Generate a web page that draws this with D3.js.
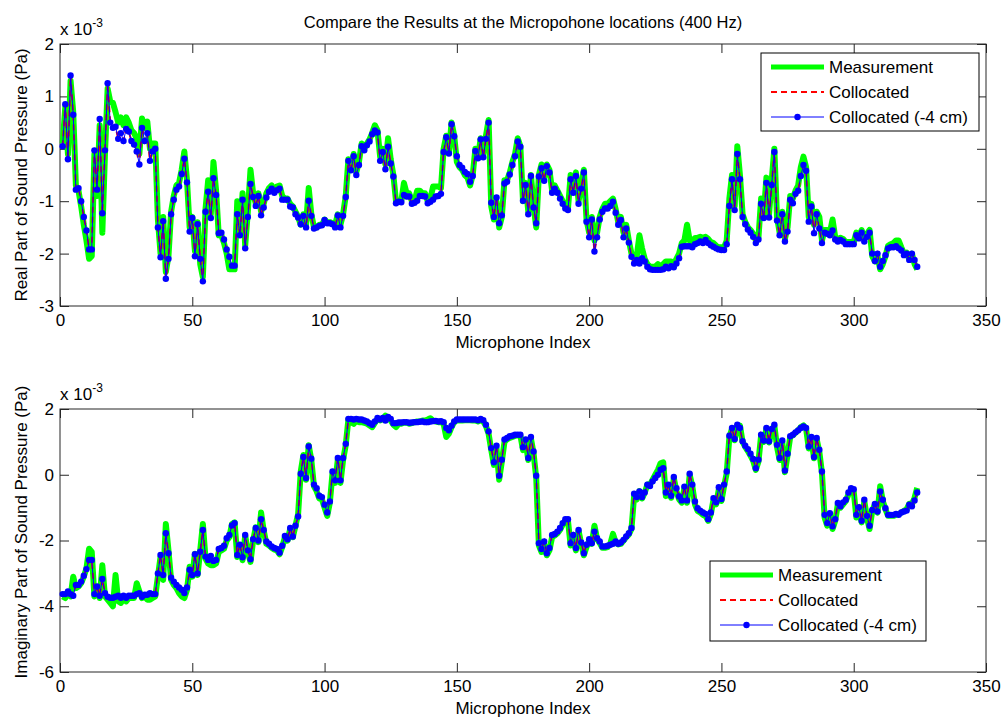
<!DOCTYPE html>
<html>
<head>
<meta charset="utf-8">
<script src="https://cdn.jsdelivr.net/npm/d3@7/dist/d3.min.js"></script>
<style>
body { margin: 0; background: #fff; }
text { font-family: Arial, "Liberation Sans", sans-serif; fill: #000; }
</style>
</head>
<body>
<div id="chart"></div>
<script>
// ---- data (values in units of 1e-3 Pa, microphone index 1..324) ----
var xTicks = [0, 50, 100, 150, 200, 250, 300, 350];
var realTicks = [-3, -2, -1, 0, 1, 2];
var imagTicks = [-6, -4, -2, 0, 2];
var seriesNames = ["Measurement", "Collocated", "Collocated (-4 cm)"];
var titleText = "Compare the Results at the Micropohone locations (400 Hz)";

var collocatedReal = [
  0.05,0.85,-0.2,1.4,0.65,-0.78,-0.75,-1.0,-1.3,-1.56,-1.92,-1.92,-0.03,-0.78,0.57,-1.23,-0.03,1.25,0.5,0.4,
  0.42,0.19,0.3,0.15,0.38,0.33,0.15,0.08,-0.05,-0.3,0.4,0.15,0.3,-0.23,-0.05,0.0,-1.5,-2.07,-1.38,-2.48,
  -2.1,-1.25,-0.97,-0.78,-0.72,-0.48,-0.19,-0.64,-1.58,-1.32,-2.05,-1.44,-2.1,-2.53,-1.2,-0.82,-1.32,-0.56,-0.88,-1.61,
  -1.6,-1.73,-1.92,-2.06,-2.23,-2.23,-1.25,-1.65,-0.97,-1.9,-1.3,-0.67,-0.92,-1.09,-0.9,-1.27,-1.12,-0.93,-0.82,-0.76,
  -0.84,-0.79,-0.76,-0.97,-0.97,-0.97,-1.1,-1.12,-1.25,-1.31,-1.44,-1.28,-1.5,-0.99,-1.28,-1.52,-1.5,-1.47,-1.46,-1.36,
  -1.42,-1.42,-1.44,-1.5,-1.27,-1.5,-1.28,-0.92,-0.23,-0.41,-0.14,-0.5,-0.31,0.05,-0.03,0.07,0.14,0.28,0.35,0.31,
  -0.23,-0.06,-0.39,0.04,-0.28,-0.53,-1.04,-1.01,-1.02,-0.88,-0.91,-0.91,-1.05,-1.03,-0.99,-0.9,-0.9,-0.91,-1.04,-1.01,
  -0.97,-0.91,-0.9,-0.86,-0.06,0.22,-0.09,0.47,0.24,-0.14,-0.31,-0.36,-0.44,-0.48,-0.63,-0.52,-0.04,-0.18,0.18,-0.16,
  0.19,0.5,-1.03,-1.3,-0.93,-1.42,-1.27,-0.66,-0.63,-0.49,-0.31,-0.14,0.14,0.04,-0.99,-0.69,-1.25,-0.52,-1.12,-1.42,
  -0.53,-0.37,-0.61,-0.33,-0.45,-0.84,-0.76,-0.84,-0.95,-1.05,-1.14,-1.17,-0.58,-0.84,-0.52,-1.05,-0.76,-0.45,-1.39,-1.69,
  -1.35,-1.96,-1.69,-1.35,-1.2,-1.14,-1.14,-1.09,-1.01,-1.22,-1.45,-1.36,-1.69,-1.52,-1.79,-2.06,-2.19,-2.12,-2.19,-2.09,
  -2.15,-2.25,-2.3,-2.31,-2.31,-2.31,-2.31,-2.3,-2.25,-2.28,-2.24,-2.26,-2.19,-2.09,-1.87,-1.86,-1.86,-1.86,-1.88,-1.82,
  -1.8,-1.77,-1.8,-1.74,-1.8,-1.84,-1.87,-1.9,-1.92,-1.93,-1.93,-1.82,-1.09,-0.58,-1.17,-0.1,-0.58,-1.3,-1.44,-1.54,
  -1.6,-1.68,-1.8,-1.73,-1.05,-1.32,-0.65,-1.31,-0.69,-0.06,-1.37,-1.65,-1.25,-1.77,-1.58,-0.97,-1.04,-0.86,-0.8,-0.52,
  -0.31,-0.42,-1.39,-1.1,-1.61,-1.25,-1.52,-1.8,-1.6,-1.62,-1.65,-1.56,-1.73,-1.77,-1.74,-1.77,-1.82,-1.82,-1.82,-1.82,
  -1.65,-1.71,-1.6,-1.77,-1.68,-1.6,-2.0,-2.14,-2.0,-2.25,-2.14,-2.03,-1.9,-1.88,-1.88,-1.86,-1.9,-1.94,-2.03,-2.0,
  -2.12,-2.0,-2.12,-2.25
];

var measurementReal = [
  0.1,0.8,-0.1,1.3,0.7,-0.7,-0.8,-1.1,-1.45,-1.75,-2.1,-2.05,-0.1,-0.9,0.45,-1.6,-0.1,1.15,0.9,0.88,
  0.7,0.5,0.6,0.45,0.6,0.5,0.35,0.3,0.2,-0.1,0.58,0.4,0.52,0.0,0.1,0.1,-1.35,-2.0,-1.3,-2.35,
  -2.05,-1.2,-0.9,-0.7,-0.65,-0.4,-0.05,-0.6,-1.5,-1.3,-1.95,-1.4,-2.2,-2.45,-1.15,-0.6,-1.25,-0.25,-0.8,-1.65,
  -1.65,-1.8,-2.0,-2.3,-2.3,-2.3,-1.0,-1.6,-0.85,-1.85,-1.2,-0.4,-0.85,-1.05,-0.85,-1.2,-1.05,-0.85,-0.75,-0.7,
  -0.78,-0.72,-0.7,-0.9,-0.95,-0.95,-1.05,-1.1,-1.2,-1.3,-1.45,-1.25,-1.45,-0.75,-1.25,-1.5,-1.5,-1.45,-1.45,-1.35,
  -1.4,-1.4,-1.42,-1.45,-1.25,-1.45,-1.25,-0.9,-0.2,-0.35,-0.1,-0.45,-0.25,0.1,0.0,0.1,0.18,0.3,0.45,0.35,
  -0.15,0.0,-0.3,0.2,-0.2,-0.5,-1.0,-1.0,-1.0,-0.65,-0.85,-0.85,-1.0,-1.0,-0.8,-0.8,-0.85,-0.85,-1.0,-0.95,
  -0.72,-0.72,-0.72,-0.75,0.0,0.25,-0.05,0.5,0.25,-0.25,-0.35,-0.4,-0.5,-0.55,-0.7,-0.5,0.0,-0.15,0.2,-0.1,
  0.25,0.55,-1.1,-1.35,-1.0,-1.5,-1.3,-0.6,-0.6,-0.45,-0.25,-0.1,0.2,0.05,-1.0,-0.65,-1.2,-0.5,-1.1,-1.5,
  -0.5,-0.3,-0.55,-0.3,-0.4,-0.8,-0.7,-0.8,-0.9,-1.0,-1.1,-1.15,-0.5,-0.8,-0.45,-1.0,-0.7,-0.4,-1.35,-1.6,
  -1.3,-1.75,-1.6,-1.3,-1.15,-1.05,-1.05,-1.0,-0.95,-1.15,-1.4,-1.3,-1.6,-1.45,-1.75,-2.0,-2.1,-2.05,-1.65,-1.9,
  -2.1,-2.2,-2.25,-2.25,-2.25,-2.2,-2.25,-2.2,-2.15,-2.15,-2.15,-2.2,-2.1,-2.0,-1.8,-1.75,-1.45,-1.75,-1.8,-1.7,
  -1.7,-1.68,-1.7,-1.68,-1.72,-1.78,-1.8,-1.85,-1.88,-1.88,-1.88,-1.75,-0.95,-0.5,-1.1,0.05,-0.5,-1.25,-1.4,-1.5,
  -1.55,-1.62,-1.75,-1.7,-0.95,-1.25,-0.55,-1.25,-0.6,0.0,-1.3,-1.6,-1.2,-1.72,-1.5,-0.9,-0.95,-0.8,-0.7,-0.35,
  -0.15,-0.35,-1.3,-1.05,-1.45,-1.2,-1.3,-1.75,-1.55,-1.55,-1.6,-1.35,-1.68,-1.72,-1.7,-1.72,-1.78,-1.78,-1.78,-1.78,
  -1.6,-1.68,-1.55,-1.72,-1.62,-1.55,-2.05,-2.15,-2.05,-2.3,-2.2,-2.05,-1.85,-1.82,-1.8,-1.75,-1.75,-1.88,-2.0,-1.98,
  -2.1,-2.0,-2.2,-2.3
];

var collocatedImag = [
  -3.63,-3.63,-3.55,-3.63,-3.68,-3.35,-3.35,-3.25,-3.07,-2.87,-2.59,-2.59,-3.63,-3.4,-3.68,-3.17,-3.6,-3.71,-3.74,-3.74,
  -3.71,-3.68,-3.74,-3.68,-3.74,-3.68,-3.68,-3.68,-3.63,-3.6,-3.71,-3.65,-3.65,-3.6,-3.63,-3.63,-3.0,-2.44,-3.05,-1.78,
  -2.39,-3.13,-3.25,-3.35,-3.43,-3.5,-3.6,-3.43,-2.89,-3.05,-2.42,-3.0,-2.34,-1.68,-2.49,-2.59,-2.47,-2.62,-2.59,-2.26,
  -2.23,-2.16,-1.93,-1.83,-1.54,-1.47,-2.44,-2.13,-2.51,-1.83,-2.3,-2.57,-1.96,-1.62,-2.0,-1.35,-1.68,-2.03,-2.1,-2.18,
  -2.23,-2.26,-2.37,-2.16,-1.86,-1.96,-1.62,-1.88,-1.55,-1.27,0.03,0.54,-0.1,0.86,0.49,-0.3,-0.41,-0.64,-0.68,-0.91,
  -1.15,-0.81,0.1,-0.17,0.51,-0.17,0.51,0.94,1.7,1.7,1.68,1.7,1.68,1.68,1.65,1.62,1.57,1.52,1.62,1.73,
  1.68,1.73,1.65,1.76,1.7,1.57,1.57,1.59,1.59,1.6,1.6,1.58,1.59,1.6,1.6,1.61,1.62,1.6,1.6,1.62,
  1.63,1.64,1.62,1.63,1.6,1.42,1.35,1.49,1.62,1.68,1.68,1.68,1.68,1.68,1.68,1.68,1.68,1.66,1.7,1.66,
  1.52,1.32,0.81,0.38,0.88,-0.03,0.46,1.07,1.12,1.17,1.19,1.22,1.22,1.22,0.84,1.07,0.51,1.15,0.71,-0.03,
  -2.08,-2.26,-2.03,-2.39,-2.23,-1.83,-1.8,-1.73,-1.62,-1.47,-1.35,-1.35,-2.08,-1.83,-2.23,-1.68,-2.06,-2.39,-2.13,-1.96,
  -2.08,-1.73,-1.93,-2.03,-2.18,-2.18,-2.16,-2.13,-2.1,-2.03,-2.1,-2.06,-1.98,-1.88,-1.78,-1.62,-0.58,-0.68,-0.51,-0.68,
  -0.54,-0.3,-0.34,-0.2,-0.1,0.0,0.15,0.2,-0.54,-0.3,-0.64,-0.07,-0.41,-0.66,-0.78,-0.36,-0.78,0.03,-0.3,-0.81,
  -1.02,-1.09,-1.15,-1.19,-1.35,-1.15,-0.71,-0.84,-0.38,-0.74,-0.3,0.1,1.19,1.42,1.09,1.52,1.42,1.02,0.88,0.78,
  0.64,0.48,0.2,0.46,1.22,1.04,1.42,1.02,1.39,1.52,0.91,0.51,1.04,0.13,0.64,1.17,1.22,1.29,1.35,1.42,
  1.47,1.42,0.86,1.15,0.54,1.12,0.76,0.1,-1.22,-1.47,-1.17,-1.57,-1.35,-0.86,-0.96,-0.84,-0.76,-0.54,-0.41,-0.44,
  -1.22,-0.99,-1.4,-0.76,-1.25,-1.55,-1.07,-0.89,-1.12,-0.51,-0.76,-1.02,-1.22,-1.22,-1.22,-1.19,-1.22,-1.15,-1.12,-1.09,
  -0.91,-0.96,-0.78,-0.54
];

var measurementImag = [
  -3.7,-3.75,-3.6,-3.7,-3.1,-3.45,-3.4,-3.3,-3.1,-2.85,-2.25,-2.35,-3.7,-3.45,-3.75,-2.75,-3.7,-3.8,-3.9,-4.0,
  -3.05,-3.85,-3.9,-3.75,-3.85,-3.75,-3.75,-3.75,-3.3,-3.55,-3.75,-3.7,-3.8,-3.8,-3.75,-3.7,-3.1,-2.5,-3.2,-1.5,
  -2.3,-3.2,-3.35,-3.45,-3.6,-3.7,-3.75,-3.5,-2.8,-3.1,-2.4,-3.05,-2.3,-1.5,-2.55,-2.7,-2.75,-2.75,-2.7,-2.35,
  -2.3,-2.25,-2.0,-1.9,-1.5,-1.45,-2.5,-2.2,-2.6,-1.85,-2.35,-2.65,-2.0,-1.6,-2.05,-1.15,-1.7,-2.1,-2.15,-2.22,
  -2.28,-2.3,-2.42,-2.2,-1.9,-2.0,-1.65,-1.9,-1.55,-1.2,0.1,0.6,-0.15,0.9,0.45,-0.35,-0.5,-0.72,-0.75,-1.0,
  -1.25,-0.85,0.05,-0.25,0.45,-0.25,0.45,0.9,1.68,1.6,1.55,1.65,1.6,1.6,1.58,1.55,1.5,1.45,1.58,1.7,
  1.65,1.7,1.8,1.72,1.65,1.52,1.45,1.55,1.55,1.58,1.58,1.55,1.57,1.6,1.62,1.62,1.65,1.65,1.68,1.72,
  1.65,1.62,1.6,1.6,1.55,1.15,1.25,1.45,1.6,1.65,1.65,1.65,1.66,1.66,1.66,1.65,1.65,1.62,1.65,1.62,
  1.48,1.25,0.75,0.3,0.8,-0.15,0.4,1.0,1.08,1.12,1.15,1.18,1.2,1.2,0.75,1.0,0.45,1.1,0.65,-0.1,
  -2.15,-2.35,-2.1,-2.45,-2.3,-1.9,-1.85,-1.78,-1.68,-1.52,-1.4,-1.4,-2.15,-1.9,-2.3,-1.7,-2.1,-2.45,-2.2,-2.0,
  -2.1,-1.55,-1.95,-2.08,-2.22,-2.22,-2.2,-2.1,-1.8,-2.05,-2.12,-2.1,-2.0,-1.9,-1.82,-1.65,-0.65,-0.75,-0.5,-0.72,
  -0.55,-0.3,-0.3,-0.15,0.0,0.15,0.35,0.38,-0.65,-0.35,-0.7,-0.1,-0.5,-0.75,-0.85,-0.4,-0.85,0.0,-0.35,-0.9,
  -1.1,-1.15,-1.22,-1.25,-1.4,-1.2,-0.75,-0.9,-0.45,-0.8,-0.35,0.05,1.15,1.4,1.05,1.5,1.5,1.0,0.85,0.72,
  0.58,0.42,0.15,0.4,1.2,1.0,1.4,0.98,1.35,1.5,0.85,0.45,1.0,0.08,0.6,1.15,1.2,1.28,1.35,1.45,
  1.5,1.4,0.8,1.1,0.5,1.08,0.7,0.05,-1.3,-1.55,-1.25,-1.65,-1.4,-0.9,-1.0,-0.9,-0.8,-0.6,-0.45,-0.5,
  -1.3,-1.05,-1.45,-0.8,-1.3,-1.65,-1.1,-0.9,-1.15,-0.35,-0.8,-1.05,-1.25,-1.25,-1.25,-1.22,-1.2,-1.15,-1.1,-1.05,
  -0.88,-0.9,-0.7,-0.4
];

// the (-4 cm) run sits on top of the collocated one at this scale
var collocated4cmReal = collocatedReal;
var collocated4cmImag = collocatedImag;

var W = 1001, H = 719;
var svg = d3.select("#chart").append("svg")
    .attr("width", W)
    .attr("height", H);

var panels = [
    {top: 44, bottom: 306, domain: [-3, 2], ticks: realTicks,
     ylabel: "Real Part of Sound Pressure (Pa)", ylabelY: 175,
     data: [measurementReal, collocatedReal, collocated4cmReal],
     legend: {x: 761, y: 53, w: 218, h: 78}},
    {top: 409, bottom: 672, domain: [-6, 2], ticks: imagTicks,
     ylabel: "Imaginary Part of Sound Pressure (Pa)", ylabelY: 532,
     data: [measurementImag, collocatedImag, collocated4cmImag],
     legend: {x: 710, y: 561, w: 216, h: 80}}
];
var left = 60, right = 986, tick = 9, fs = 17;

// title
svg.append("text")
    .attr("x", (left + right) / 2)
    .attr("y", 28)
    .attr("text-anchor", "middle")
    .attr("font-size", 16.5)
    .text(titleText);

panels.forEach(function(p) {
    var x = d3.scaleLinear().domain([0, 350]).range([left, right]);
    var y = d3.scaleLinear().domain(p.domain).range([p.bottom, p.top]);
    var g = svg.append("g");
    var fmt = function(d) { return String(d); };   // plain hyphen minus like matlab

    // axes, ticks pointing inward on all four sides
    g.append("g").attr("transform", "translate(0," + p.bottom + ")")
        .call(d3.axisBottom(x).tickValues(xTicks).tickSizeInner(-tick).tickSizeOuter(0).tickPadding(8)
            .tickFormat(fmt));
    g.append("g").attr("transform", "translate(0," + p.top + ")")
        .call(d3.axisTop(x).tickValues(xTicks).tickSizeInner(-tick).tickSizeOuter(0).tickFormat(""));
    g.append("g").attr("transform", "translate(" + left + ",0)")
        .call(d3.axisLeft(y).tickValues(p.ticks).tickSizeInner(-tick).tickSizeOuter(0).tickPadding(6)
            .tickFormat(fmt));
    g.append("g").attr("transform", "translate(" + right + ",0)")
        .call(d3.axisRight(y).tickValues(p.ticks).tickSizeInner(-tick).tickSizeOuter(0).tickFormat(""));
    g.selectAll(".domain").remove();
    g.selectAll(".tick line").attr("stroke", "#262626");
    g.selectAll(".tick text").attr("font-size", fs).attr("fill", "#000");
    g.selectAll("g").attr("font-family", null).attr("font-size", null);

    g.append("rect")
        .attr("x", left).attr("y", p.top)
        .attr("width", right - left).attr("height", p.bottom - p.top)
        .attr("fill", "none").attr("stroke", "#262626").attr("stroke-width", 1);

    // x 10^-3 exponent label
    var ex = g.append("text").attr("x", left).attr("y", p.top - 9).attr("font-size", fs).text("x 10");
    ex.append("tspan").attr("font-size", 12).attr("dy", -8).text("-3");

    // axis labels
    g.append("text")
        .attr("x", (left + right) / 2)
        .attr("y", p.bottom + 42)
        .attr("text-anchor", "middle")
        .attr("font-size", fs)
        .text("Microphone Index");
    g.append("text")
        .attr("transform", "translate(21," + p.ylabelY + ") rotate(-90)")
        .attr("text-anchor", "middle")
        .attr("dy", "0.35em")
        .attr("font-size", fs)
        .text(p.ylabel);

    var line = d3.line()
        .x(function(d, i) { return x(i + 1); })
        .y(function(d) { return y(d); });

    // measurement: thick green
    g.append("path").datum(p.data[0]).attr("d", line)
        .attr("fill", "none").attr("stroke", "#00ff00").attr("stroke-width", 6)
        .attr("stroke-linejoin", "round");
    // collocated: red dashed
    g.append("path").datum(p.data[1]).attr("d", line)
        .attr("fill", "none").attr("stroke", "#ff0000").attr("stroke-width", 2)
        .attr("stroke-dasharray", "6,4");
    // collocated (-4 cm): thin blue with dots
    g.append("path").datum(p.data[2]).attr("d", line)
        .attr("fill", "none").attr("stroke", "#0000ff").attr("stroke-width", 1);
    g.selectAll(".dot").data(p.data[2]).enter().append("circle")
        .attr("class", "dot")
        .attr("cx", function(d, i) { return x(i + 1); })
        .attr("cy", function(d) { return y(d); })
        .attr("r", 3.2)
        .attr("fill", "#0000ff");

    // legend
    var L = p.legend;
    var lg = g.append("g").attr("transform", "translate(" + L.x + "," + L.y + ")");
    lg.append("rect").attr("width", L.w).attr("height", L.h)
        .attr("fill", "#fff").attr("stroke", "#000").attr("stroke-width", 1);
    seriesNames.forEach(function(name, k) {
        var ly = 14 + k * 25;
        var ln = lg.append("line").attr("x1", 10).attr("x2", 63).attr("y1", ly).attr("y2", ly);
        if (k === 0) ln.attr("stroke", "#00ff00").attr("stroke-width", 5);
        if (k === 1) ln.attr("stroke", "#ff0000").attr("stroke-width", 2).attr("stroke-dasharray", "6,4");
        if (k === 2) {
            ln.attr("stroke", "#0000ff").attr("stroke-width", 1);
            lg.append("circle").attr("cx", 36.5).attr("cy", ly).attr("r", 3.2).attr("fill", "#0000ff");
        }
        lg.append("text").attr("x", 68).attr("y", ly).attr("dy", "0.35em")
            .attr("font-size", fs).text(name);
    });
});
</script>
</body>
</html>
